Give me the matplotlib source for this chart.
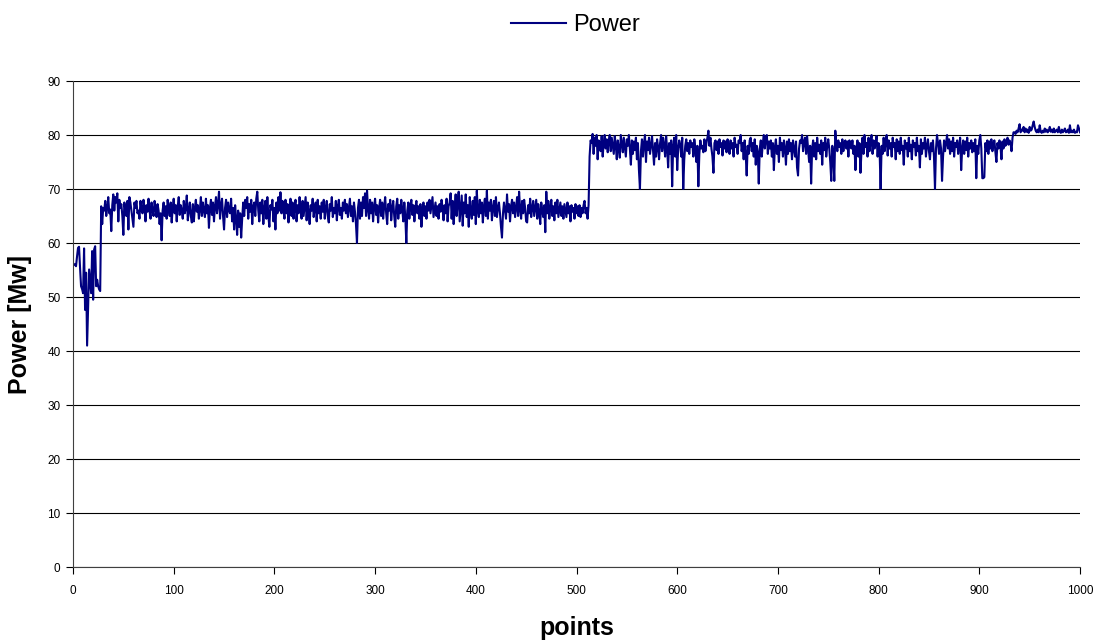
import numpy as np
import matplotlib
matplotlib.use("Agg")
import matplotlib.pyplot as plt

# ---- data (one value per point) ----
ramp_up = [56.3, 56.0, 56.0, 55.7, 57.5, 59.1, 59.3, 55.4, 52.0, 51.5,
           50.7, 59.0, 47.6, 54.5, 41.0, 48.0, 55.1, 53.0, 50.7, 58.5,
           49.5, 58.8, 59.4, 52.0, 53.2, 52.0, 51.4, 51.1, 66.8]

level_66 = [
    63.5, 66.5, 66.0, 67.8, 65.0, 66.5, 68.5, 65.5, 66.2, 62.2, 67.0, 69.0, 66.0, 68.5, 67.5, 69.2, 64.0, 68.0, 66.5, 67.2,
    65.0, 61.5, 67.5, 66.0, 65.0, 67.8, 62.5, 68.5, 67.5, 66.0, 64.5, 63.0, 67.5, 66.5, 67.8, 65.5, 66.0, 64.5, 67.8, 66.2,
    65.5, 68.0, 66.5, 64.0, 67.0, 65.8, 68.2, 66.0, 64.5, 67.5, 66.0, 65.0, 67.8, 66.5, 64.8, 67.2, 66.0, 63.5, 65.5, 60.5,
    66.0, 67.5, 65.0, 66.8, 64.5, 68.0, 66.2, 65.0, 67.5, 63.8, 66.5, 68.2, 65.5, 67.0, 64.0, 66.8, 68.5, 65.2, 67.0, 66.0,
    64.5, 67.8, 65.5, 66.5, 68.8, 64.2, 66.0, 67.5, 65.0, 63.8, 67.2, 64.0, 66.5, 68.0, 65.8, 67.0, 64.5, 66.2, 68.5, 65.0,
    67.5, 66.0, 64.8, 68.2, 65.5, 67.0, 62.8, 66.5, 68.0, 65.2, 67.5, 64.0, 66.8, 68.5, 65.5, 67.2, 69.5, 64.5, 67.0, 68.2,
    65.0, 62.5, 66.5, 68.0, 64.8, 67.5, 66.0, 65.5, 68.2, 64.0, 66.5, 62.5, 67.0, 64.5, 61.5, 66.0, 63.0, 65.5, 61.0, 64.5,
    67.5, 65.0, 68.0, 66.5, 68.5, 64.5, 67.2, 65.8, 68.0, 63.5, 66.8, 67.5, 65.0, 68.2, 69.5, 66.0, 64.0, 67.5, 65.5, 68.0,
    63.5, 66.5, 67.8, 64.5, 68.5, 65.0, 63.0, 67.0, 66.2, 68.0, 64.0, 66.5, 62.5, 67.5, 65.5, 68.5, 66.0, 69.4, 65.5, 67.8,
    66.0, 64.5, 68.0, 65.5, 67.2, 63.8, 66.5, 68.2, 65.0, 67.5, 64.5, 66.8, 68.0, 64.0, 67.0, 65.5, 68.5, 66.2, 64.5, 67.8,
    65.0, 66.8, 68.5, 64.2, 67.5, 65.8, 63.5, 67.0, 66.0, 68.2, 64.8, 66.5, 67.5, 64.0, 68.0, 65.5, 66.8, 64.5, 67.5, 65.8,
    68.0, 64.5, 66.5, 67.8, 65.0, 63.8, 67.2, 66.0, 68.5, 64.8, 66.5, 65.5, 67.8, 64.2, 66.8, 68.0, 65.2, 66.5, 64.5, 67.5,
    66.0, 68.0, 65.5, 67.2, 64.8, 66.5, 68.2, 65.0, 66.8, 64.0, 67.5, 65.8, 63.5, 60.0, 66.5, 68.0, 64.5, 67.5, 65.0, 68.5,
    66.5, 69.2, 65.0, 69.7, 66.2, 64.5, 68.0, 65.5, 67.5, 64.0, 66.8, 68.2, 65.2, 67.0, 63.8, 66.5, 68.0, 65.0, 67.5, 64.5,
    66.8, 68.5, 65.5, 63.5, 67.2, 66.0, 68.0, 64.2, 66.5, 67.8, 65.0, 63.0, 66.8, 68.2, 64.5, 67.0, 65.5, 68.0, 66.2, 64.0,
    67.5, 64.8, 60.0, 66.0, 67.5, 64.5, 66.8, 68.0, 65.2, 67.0, 64.0, 66.5, 67.8, 65.5, 66.8, 64.5, 67.2, 63.0, 66.0, 67.5,
    65.0, 66.8, 64.5, 67.5, 66.0, 68.0, 65.5, 67.0, 68.5, 64.8, 66.2, 67.5, 65.0, 66.8, 64.5, 67.2, 65.8, 68.0, 66.5, 64.2,
    67.0, 65.5, 68.2, 64.0, 66.8, 67.5, 69.2, 64.5, 67.8, 63.5, 66.5, 69.0, 65.0, 67.5, 69.5, 64.0, 66.5, 68.8, 63.2, 67.5,
    65.5, 69.0, 64.8, 67.0, 63.0, 68.5, 66.0, 64.5, 67.8, 65.2, 68.5, 63.5, 69.7, 66.0, 64.8, 68.0, 65.5, 67.5, 63.8, 66.8,
    68.2, 65.0, 69.7, 64.5, 67.5, 66.0, 68.0, 64.2, 66.5, 67.8, 65.0, 68.5, 64.8, 66.5, 67.5, 65.5, 63.0, 61.0, 65.5, 67.5,
    66.0, 64.5, 69.0, 65.8, 67.2, 64.0, 66.8, 68.0, 65.5, 67.5, 64.8, 66.5, 68.5, 65.0, 69.5, 66.2, 64.5, 67.8, 65.5, 68.0,
    66.5, 64.0, 63.8, 67.0, 65.5, 68.2, 64.8, 66.5, 67.8, 65.0, 66.5, 68.0, 64.5, 67.2, 65.8, 63.5, 67.5, 66.0, 64.8, 67.0,
    62.0, 69.5, 65.5, 67.8, 64.5, 66.5, 68.0, 65.0, 66.8, 64.2, 67.5, 65.5, 68.0, 64.8, 66.2, 67.5, 65.0, 66.8, 64.5, 67.2,
    66.0, 64.8, 67.5, 65.5, 66.8, 64.0, 67.0, 65.8, 66.5, 64.5, 67.2, 65.5, 66.8, 65.0, 67.0, 64.8, 66.5, 65.5, 67.0, 67.8,
    65.5, 66.5, 64.5, 67.0]

level_78 = [
    76.0, 79.0, 78.5, 80.2, 76.5, 79.5, 78.0, 80.0, 75.5, 79.0, 78.5, 77.0, 79.8, 76.0, 78.5, 80.0, 77.5, 79.2, 76.8, 78.8,
    80.0, 77.0, 79.5, 78.0, 76.5, 79.8, 78.2, 75.5, 79.0, 77.5, 75.8, 80.0, 78.5, 76.8, 79.5, 77.8, 76.0, 79.2, 78.0, 80.0,
    77.5, 74.5, 79.0, 76.5, 78.8, 77.2, 79.5, 75.5, 78.5, 73.5, 70.0, 77.0, 79.2, 76.0, 78.5, 80.0, 75.0, 78.8, 77.2, 79.5,
    76.5, 78.0, 79.8, 77.0, 74.5, 78.5, 76.0, 79.2, 77.8, 75.5, 78.5, 80.0, 77.0, 79.5, 78.2, 76.0, 79.8, 77.5, 74.0, 78.5,
    76.5, 79.0, 70.5, 78.0, 79.5, 76.0, 80.0, 73.5, 77.5, 79.0, 78.2, 76.0, 79.5, 70.0, 75.5, 78.0, 79.2, 77.0, 78.5, 76.5,
    79.0, 77.8, 78.5, 76.0, 79.2, 77.5, 75.0, 78.0, 70.5, 76.5, 79.0, 77.5, 78.0, 76.8, 79.2, 77.0, 78.5, 79.5, 80.8, 78.0,
    79.5, 77.5, 76.0, 73.0, 78.5, 79.0, 77.2, 78.8, 76.5, 79.2, 77.8, 78.5, 76.2, 79.0, 77.5, 78.8, 76.8, 79.2, 78.0, 76.5,
    79.0, 77.5, 78.5, 76.0, 79.5, 77.8, 78.2, 76.5, 79.0, 78.5, 80.0, 77.0, 78.5, 75.5, 79.0, 76.5, 72.5, 78.0, 76.5, 79.0,
    79.5, 77.0, 78.5, 76.0, 79.2, 74.5, 78.0, 76.8, 71.0, 77.5, 79.0, 76.0, 78.5, 80.0, 77.5, 79.5, 80.0, 76.5, 78.8, 77.5,
    79.0, 76.0, 78.5, 73.5, 77.8, 79.2, 76.5, 78.0, 75.0, 79.5, 77.2, 78.5, 76.0, 79.0, 77.5, 74.5, 78.8, 76.5, 79.2, 77.0,
    78.5, 75.5, 79.0, 77.5, 76.0, 78.8, 74.0, 72.5, 77.5, 79.0, 78.5, 80.0, 77.0, 78.8, 79.5, 76.5, 79.8, 77.5, 75.0, 78.0,
    71.0, 77.5, 79.0, 76.0, 78.5, 75.5, 79.5, 77.0, 78.2, 76.5, 79.0, 74.5, 78.5, 77.2, 79.5, 76.0, 78.0, 79.2, 77.5, 75.0,
    71.5, 78.0, 76.5, 71.5, 80.8, 78.5, 77.0, 79.0, 77.8, 78.5, 76.5, 79.2, 77.0, 78.5, 79.0, 77.5, 78.8, 76.0, 79.0, 78.0,
    77.5, 79.0, 76.5, 78.0, 73.5, 77.5, 79.0, 76.0, 78.5, 73.0, 77.0, 79.5, 76.5, 80.0, 77.8, 78.5, 76.0, 79.5, 77.0, 78.8,
    80.0, 76.5, 79.0, 77.5, 78.5, 79.8, 76.0, 78.5, 77.0, 70.0, 78.0, 76.5, 79.5, 77.0, 78.8, 80.0, 76.2, 79.0, 77.5, 78.5,
    76.0, 79.5, 77.8, 78.5, 75.5, 79.2, 77.0, 78.8, 76.5, 79.5, 77.2, 78.0, 74.5, 79.0, 77.5, 78.5, 76.0, 79.5, 77.0, 78.2,
    75.5, 79.0, 77.8, 78.5, 76.2, 79.5, 77.0, 78.0, 74.0, 79.2, 76.5, 78.5, 77.5, 79.5, 76.0, 78.0, 79.2, 77.0, 75.5, 78.5,
    77.0, 79.0, 76.0, 70.0, 77.5, 80.0, 78.5, 76.5, 79.0, 77.5, 71.5, 76.0, 79.0, 77.0, 78.5, 80.0, 77.5, 79.2, 76.5, 78.8,
    77.0, 79.5, 76.0, 78.5, 77.8, 79.0, 76.5, 78.2, 79.5, 73.5, 77.5, 79.0, 76.5, 78.8, 77.2, 79.5, 76.0, 78.5, 77.5, 79.0,
    76.8, 78.5, 77.0, 79.2, 72.0, 78.0, 76.5, 79.0, 80.0, 77.5, 72.0, 72.0, 72.2, 78.5, 77.0, 79.0, 76.5, 78.8, 77.5, 79.2,
    77.0, 78.5, 79.0, 76.8, 75.0, 78.5, 77.5, 79.0, 78.0, 75.5, 78.8, 77.5, 79.2, 78.0, 78.5, 79.5, 78.2, 79.0, 78.5, 77.0,
    79.5, 80.5]

level_81 = [
    80.5, 80.2, 80.8, 80.5, 81.2, 82.0, 80.5, 81.0, 80.8, 81.5, 80.5, 81.2, 80.6, 81.0, 80.4, 81.5, 80.8, 81.0, 81.8, 82.5,
    81.5, 80.8, 80.5, 81.0, 80.5, 81.8, 80.6, 80.4, 80.8, 80.5, 81.2, 80.6, 81.0, 80.5, 80.8, 81.5, 80.6, 81.0, 80.5, 81.2,
    80.5, 80.8, 81.0, 80.5, 81.5, 80.6, 80.4, 81.0, 80.5, 80.8, 81.2, 80.5, 80.6, 81.0, 80.4, 81.8, 80.5, 80.8, 80.5, 81.0,
    80.4, 80.6, 80.5, 81.8, 81.2, 80.5]

power = np.array(ramp_up + level_66 + level_78 + level_81)
points = np.arange(len(power))

y_ticks = list(range(0, 91, 10))
x_ticks = list(range(0, 1001, 100))

plt.rcParams['font.family'] = ['Liberation Sans', 'DejaVu Sans']

fig = plt.figure(figsize=(10.99, 6.42), dpi=100)
ax = fig.add_axes([73 / 1099, 75 / 642, 1007 / 1099, 486 / 642])

line, = ax.plot(points, power, color='#000080', linewidth=1.5, label='Power')

ax.set_xlim(0, 1000)
ax.set_ylim(0, 90)
ax.set_xticks(x_ticks)
ax.set_yticks(y_ticks)
ax.tick_params(axis='both', direction='out', length=5, width=0.8, labelsize=8.5,
               colors='black', pad=4)
ax.tick_params(axis='x', pad=8)
ax.yaxis.grid(True, color='black', linewidth=0.8)
ax.set_axisbelow(True)
for s in ['top', 'right']:
    ax.spines[s].set_visible(False)
for s in ['left', 'bottom']:
    ax.spines[s].set_color('#404040')
    ax.spines[s].set_linewidth(0.8)

ax.set_xlabel('points', fontsize=18, fontweight='bold')
ax.xaxis.set_label_coords(0.5, -0.1)
ax.set_ylabel('Power [Mw]', fontsize=18, fontweight='bold')
ax.yaxis.set_label_coords(-0.041, 0.5)

fig.legend(handles=[line], loc='center', bbox_to_anchor=(575.5 / 1099, 1 - 25 / 642),
           frameon=False, fontsize=17, handlelength=2.3, handletextpad=0.3)

fig.savefig('out.png', dpi=100)
